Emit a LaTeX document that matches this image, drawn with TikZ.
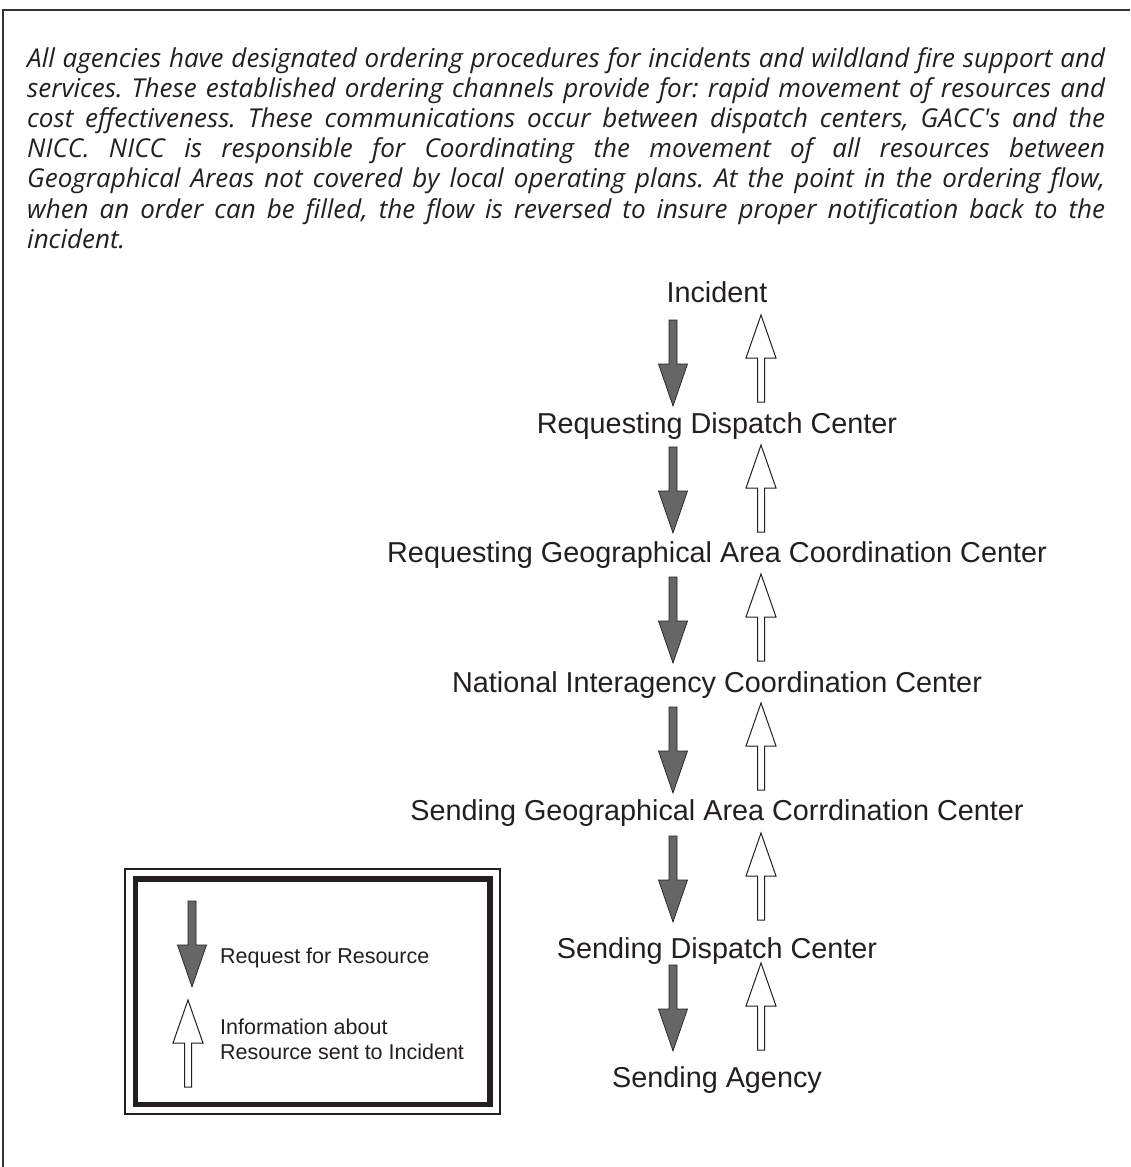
\documentclass[tikz,border=0pt]{standalone}
\usepackage{fontspec}
\setmainfont{Liberation Sans}
\newfontfamily\bodyfont{Open Sans}
\definecolor{ink}{HTML}{231F20}
\definecolor{reqgray}{HTML}{666666}
\definecolor{framegray}{HTML}{333333}
\tikzset{
  lbl/.style={anchor=base, inner sep=0pt, text=ink, font=\fontsize{28.8}{34}\selectfont},
  legtxt/.style={anchor=base west, inner sep=0pt, text=ink, font=\fontsize{21.5}{25}\selectfont},
  reqarrow/.pic={\filldraw[fill=reqgray, draw=ink, line width=0.7pt]
     (-4,0) -- (4,0) -- (4,44) -- (14.5,44) -- (0,86) -- (-14.5,44) -- (-4,44) -- cycle;},
  infoarrow/.pic={\filldraw[fill=white, draw=ink, line width=1pt]
     (0,0) -- (15,43) -- (3.5,43) -- (3.5,87) -- (-3.5,87) -- (-3.5,43) -- (-15,43) -- cycle;}
}
\begin{document}
\frenchspacing
\begin{tikzpicture}[x=1pt,y=-1pt]
\useasboundingbox (0,0) rectangle (1130,1167);
% outer frame (cut off at right and bottom)
\draw[line width=2pt, draw=framegray] (3,1167) -- (3,10) -- (1130,10);
% body text
\node[anchor=north west, text width=1078pt, align=justify, inner sep=0pt, text=ink,
      font=\bodyfont\itshape\fontsize{26}{30.2}\selectfont] (body) at (27,47)
{All agencies have designated ordering procedures for incidents and wildland fire support and\linebreak
services. These established ordering channels provide for: rapid movement of resources and\linebreak
cost effectiveness. These communications occur between dispatch centers, GACC's and the\linebreak
NICC. NICC is responsible for Coordinating the movement of all resources between\linebreak
Geographical Areas not covered by local operating plans. At the point in the ordering flow,\linebreak
when an order can be filled, the flow is reversed to insure proper notification back to the\linebreak
incident.};
% flow labels
\node[lbl] (inc) at (717,302) {Incident};
\node[lbl] (rdc) at (717,433) {Requesting Dispatch Center};
\node[lbl] (rgacc) at (717,562) {Requesting Geographical Area Coordination Center};
\node[lbl] (nicc) at (717,692) {National Interagency Coordination Center};
\node[lbl] (sgacc) at (717,820) {Sending Geographical Area Corrdination Center};
\node[lbl] (sdc) at (717,958) {Sending Dispatch Center};
\node[lbl] (sa) at (717,1087) {Sending Agency};
% arrows
\foreach \d/\u in {320/315, 447/445, 577/574, 707/703, 836/833, 965/963}{
  \pic at (673,\d) {reqarrow};
  \pic at (761,\u) {infoarrow};
}
% legend
\draw[line width=1.2pt, draw=ink] (125,869) rectangle (500,1114);
\draw[line width=5.5pt, draw=ink] (135.5,879) rectangle (490,1104.5);
\pic at (192,901) {reqarrow};
\pic at (188,1000) {infoarrow};
\node[legtxt] (lreq) at (220,963) {Request for Resource};
\node[legtxt] (linfo1) at (220,1034) {Information about};
\node[legtxt] (linfo2) at (220,1059) {Resource sent to Incident};
\end{tikzpicture}
\end{document}
